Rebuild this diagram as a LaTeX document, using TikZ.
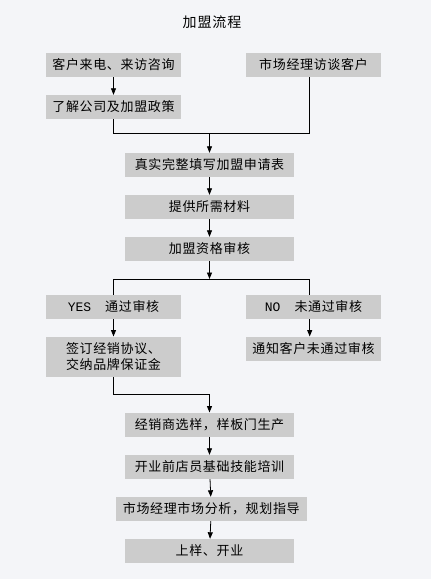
\documentclass[tikz,border=0pt]{standalone}
\usepackage{fontspec}
\setmainfont{Noto Sans CJK SC}
\newfontfamily\cjkbox[LetterSpace=5]{Noto Sans CJK SC}
\newfontfamily\cjktitle[LetterSpace=6]{Noto Sans CJK SC}
\newfontfamily\latinmono{Liberation Mono}
\usetikzlibrary{arrows.meta}
\definecolor{bgcol}{HTML}{F4F5F8}
\definecolor{boxgray}{HTML}{CCCCCC}
\begin{document}
\begin{tikzpicture}[x=1pt,y=1pt,
  box/.style={fill=boxgray, inner sep=0pt, minimum height=24pt, align=center, font=\cjkbox\fontsize{13}{16}\selectfont},
  narrowbox/.style={box, minimum width=135pt},
  widebox/.style={box, minimum width=169pt},
  arr/.style={draw=black, line width=0.8pt, -{Triangle[length=6.5pt,width=5pt]}},
  ln/.style={draw=black, line width=0.8pt}]
\fill[bgcol] (0,0) rectangle (431,-579);
\useasboundingbox (0,0) rectangle (431,-579);

\node[font=\cjktitle\fontsize{14}{16}\selectfont] (title) at (212,-22) {加盟流程};

\node[narrowbox] (b1) at (113.5,-65) {客户来电、来访咨询};
\node[narrowbox] (b2) at (313.5,-65) {市场经理访谈客户};
\node[narrowbox] (b3) at (113.5,-107) {了解公司及加盟政策};
\node[widebox] (b4) at (209.5,-165) {真实完整填写加盟申请表};
\node[widebox] (b5) at (209.5,-207) {提供所需材料};
\node[widebox] (b6) at (209.5,-249) {加盟资格审核};
\node[narrowbox] (b7) at (113.5,-307) {{\latinmono YES}\hspace{14pt}通过审核};
\node[narrowbox] (b8) at (313.5,-307) {{\latinmono NO}\hspace{14pt}未通过审核};
\node[narrowbox, minimum height=40pt] (b9) at (113.5,-356.7) {签订经销协议、\\交纳品牌保证金};
\node[narrowbox] (b10) at (313.5,-348.7) {通知客户未通过审核};
\node[widebox] (b11) at (209.5,-424.7) {经销商选样，样板门生产};
\node[widebox] (b12) at (209.5,-467) {开业前店员基础技能培训};
\node[box, minimum width=190.7pt] (b13) at (211.3,-509) {市场经理市场分析，规划指导};
\node[widebox] (b14) at (209.5,-551) {上样、开业};

\coordinate (jl) at (113.5,-133);
\coordinate (jr) at (309.7,-133);
\coordinate (jm) at (209.5,-133);
\coordinate (kl) at (113.5,-279);
\coordinate (kr) at (309.7,-279);
\coordinate (km) at (209.5,-279);
\coordinate (m1) at (113.5,-394.3);
\coordinate (m2) at (209.5,-394.3);

\draw[arr] (b1) -- (b3);
\draw[ln] (b3.south) -- (jl) -- (jr) -- (jr |- b2.south);
\draw[arr] (jm) -- (b4);
\draw[arr] (b4) -- (b5);
\draw[arr] (b5) -- (b6);
\draw[arr] (b6) -- (km);
\draw[ln] (b7.north) -- (kl) -- (kr) -- (kr |- b8.north);
\draw[arr] (b7) -- (b9);
\draw[arr] (kr |- b8.south) -- (kr |- b10.north);
\draw[arr] (b9.south) -- (m1) -- (m2) -- (b11.north);
\draw[arr] (b11) -- (b12);
\draw[arr] (b12) -- (b13);
\draw[arr] (b13) -- (b14);
\end{tikzpicture}
\end{document}
